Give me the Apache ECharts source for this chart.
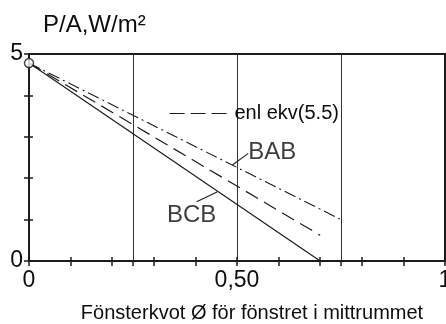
<!DOCTYPE html>
<html>
<head>
<meta charset="utf-8">
<script src="https://cdn.jsdelivr.net/npm/echarts@6/dist/echarts.min.js"></script>
<style>
html,body{margin:0;padding:0;background:#fff;}
#chart{width:446px;height:324px;}
</style>
</head>
<body>
<div id="chart"></div>
<script>
// ---- data ----
const startPoint = [0, 4.78];
const bcbX = [0, 0.70];
const bcbY = [4.78, 0];
const ekvX = [0, 0.70];
const ekvY = [4.78, 0.62];
const babX = [0, 0.75];
const babY = [4.78, 1.0];
const xTickValues = [0, 0.5, 1];
const xTickLabels = ['0', '0,50', '1'];
const yTickValues = [0, 5];
const yTickLabels = ['0', '5'];
const legendLineX = [0.338, 0.489];
const legendLineY = [3.57, 3.57];
const legendText = 'enl ekv(5.5)';
const babLeaderX = [0.489, 0.527];
const babLeaderY = [2.32, 2.60];
const bcbLeaderX = [0.453, 0.403];
const bcbLeaderY = [1.67, 1.43];
const textLabels = [
  { name: 'BAB', x: 0.527, y: 2.63, align: 'left' },
  { name: 'BCB', x: 0.391, y: 1.09, align: 'center' }
];
const titleText = 'P/A,W/m²';
const xName = 'Fönsterkvot Ø för fönstret i mittrummet';

const pairs = (xs, ys) => xs.map((x, i) => [x, ys[i]]);
const ink = '#1c1c1c';
const textInk = '#0d0d0d';
const font = '"Liberation Sans", Arial, sans-serif';

const chart = echarts.init(document.getElementById('chart'), null, { renderer: 'canvas' });

function xLabel(v) {
  for (let i = 0; i < xTickValues.length; i++) if (Math.abs(v - xTickValues[i]) < 1e-9) return xTickLabels[i];
  return '';
}
function yLabel(v) {
  for (let i = 0; i < yTickValues.length; i++) if (Math.abs(v - yTickValues[i]) < 1e-9) return yTickLabels[i];
  return '';
}

const hiddenLine = { show: true, lineStyle: { color: ink, width: 0.01, opacity: 0 } };
const lineBase = { type: 'line', showSymbol: false, symbol: 'none', silent: true, animation: false, xAxisIndex: 0, yAxisIndex: 0 };

chart.setOption({
  animation: false,
  backgroundColor: '#ffffff',
  title: {
    text: titleText,
    left: 38, top: 8,
    textStyle: { fontFamily: font, fontSize: 24, fontWeight: 'normal', color: textInk }
  },
  grid: {
    left: 29, top: 54, width: 416, height: 207,
    outerBoundsMode: 'none',
    show: true, borderColor: ink, borderWidth: 2, backgroundColor: 'transparent',
    containLabel: false
  },
  xAxis: [
    {
      type: 'value', min: 0, max: 1, interval: 0.1, position: 'bottom',
      axisLine: { show: true, lineStyle: { color: ink, width: 2 } },
      axisTick: { show: true, inside: false, length: 5, lineStyle: { color: ink, width: 1.5 } },
      axisLabel: { show: true, formatter: xLabel, margin: 8, fontFamily: font, fontSize: 23, color: textInk, showMaxLabel: true, showMinLabel: true },
      splitLine: { show: false },
      name: xName, nameLocation: 'middle', nameGap: 42,
      nameTextStyle: { fontFamily: font, fontSize: 20, color: textInk, padding: [0, 0, 0, 30] }
    },
    {
      type: 'value', min: 0, max: 1, interval: 0.1, position: 'bottom',
      axisLine: hiddenLine,
      axisTick: { show: true, inside: true, length: 4, lineStyle: { color: ink, width: 1.5 } },
      axisLabel: { show: false },
      splitLine: { show: false }
    },
    {
      type: 'value', min: 0, max: 1, interval: 0.25, position: 'bottom',
      axisLine: hiddenLine,
      axisTick: { show: true, inside: false, length: 5, lineStyle: { color: ink, width: 1.5 } },
      axisLabel: { show: false },
      splitLine: { show: true, showMinLine: false, showMaxLine: false, lineStyle: { color: '#333', width: 1 } }
    }
  ],
  yAxis: [
    {
      type: 'value', min: 0, max: 5, interval: 1, position: 'left',
      axisLine: { show: true, lineStyle: { color: ink, width: 2 } },
      axisTick: { show: true, inside: false, length: 5, lineStyle: { color: ink, width: 1.5 } },
      axisLabel: { show: true, formatter: yLabel, margin: 6, fontFamily: font, fontSize: 23, color: textInk },
      splitLine: { show: false }
    },
    {
      type: 'value', min: 0, max: 5, interval: 1, position: 'left',
      axisLine: hiddenLine,
      axisTick: { show: true, inside: true, length: 4, lineStyle: { color: ink, width: 1.5 } },
      axisLabel: { show: false },
      splitLine: { show: false }
    }
  ],
  series: [
    Object.assign({}, lineBase, {
      name: 'BCB', data: pairs(bcbX, bcbY),
      lineStyle: { color: ink, width: 1.2, type: 'solid' }
    }),
    Object.assign({}, lineBase, {
      name: 'ekv', data: pairs(ekvX, ekvY),
      lineStyle: { color: ink, width: 1.2, type: [14, 7] },
      markLine: {
        silent: true, symbol: ['none', 'none'], animation: false,
        lineStyle: { color: ink, width: 1.2, type: [15, 6] },
        label: { show: true, position: 'end', formatter: legendText, distance: 2, fontFamily: font, fontSize: 20, color: textInk },
        data: [[{ coord: [legendLineX[0], legendLineY[0]] }, { coord: [legendLineX[1], legendLineY[1]] }]]
      }
    }),
    Object.assign({}, lineBase, {
      name: 'BAB', data: pairs(babX, babY),
      lineStyle: { color: ink, width: 1.1, type: [12, 4, 2, 4] }
    }),
    Object.assign({}, lineBase, {
      name: 'babLeader', data: pairs(babLeaderX, babLeaderY),
      lineStyle: { color: ink, width: 1.1 }
    }),
    Object.assign({}, lineBase, {
      name: 'bcbLeader', data: pairs(bcbLeaderX, bcbLeaderY),
      lineStyle: { color: ink, width: 1.1 }
    }),
    {
      type: 'scatter', name: 'labels', silent: true, animation: false,
      symbolSize: 0,
      data: textLabels.map(t => ({
        name: t.name, value: [t.x, t.y],
        label: { show: true, position: 'inside', formatter: t.name, align: t.align, verticalAlign: 'middle',
                 fontFamily: font, fontSize: 24, color: textInk }
      }))
    },
    {
      type: 'scatter', name: 'start', silent: true, animation: false,
      symbol: 'circle', symbolSize: 9, z: 5,
      itemStyle: { color: '#ffffff', borderColor: ink, borderWidth: 1.5 },
      data: [startPoint]
    }
  ]
});
</script>
</body>
</html>
